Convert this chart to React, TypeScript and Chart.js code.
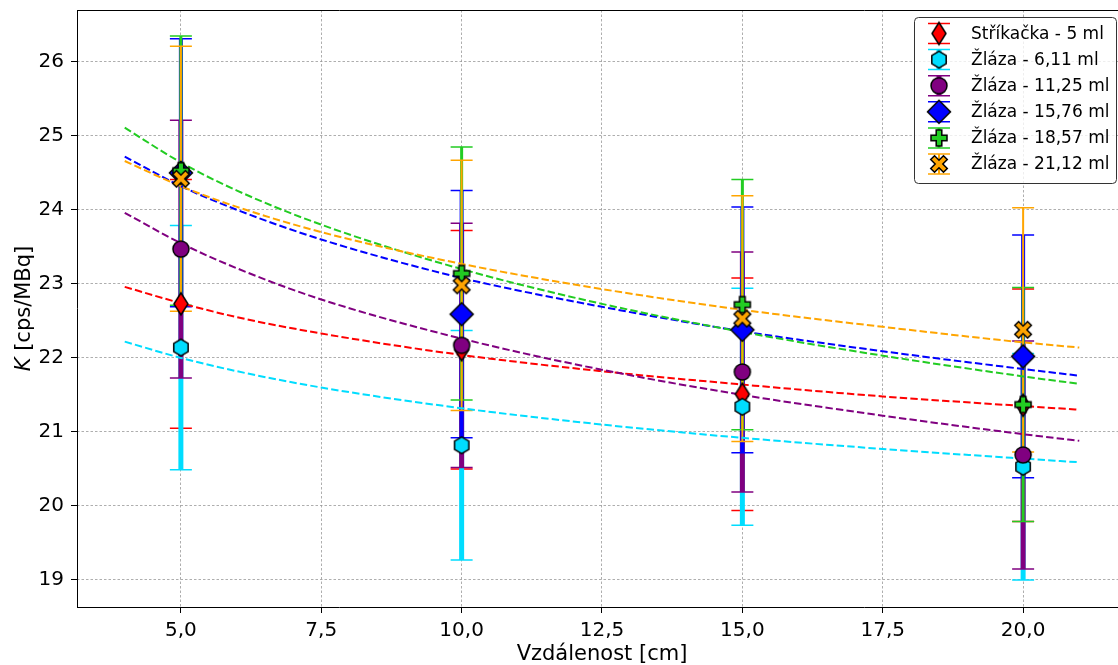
import React, { useEffect, useRef } from "react";
import { Chart, registerables } from "chart.js";

Chart.register(...registerables);

// ---------- data ----------
const X_POS = [5, 10, 15, 20];
const X_TICKS = [5, 7.5, 10, 12.5, 15, 17.5, 20];
const Y_TICKS = [19, 20, 21, 22, 23, 24, 25, 26];

const LABELS = [
  "Stříkačka - 5 ml",
  "Žláza - 6,11 ml",
  "Žláza - 11,25 ml",
  "Žláza - 15,76 ml",
  "Žláza - 18,57 ml",
  "Žláza - 21,12 ml",
];

const K_STRIKACKA = [22.73, 22.11, 21.51, 21.36];
const ERR_STRIKACKA = [1.68, 1.61, 1.57, 1.57];
const K_ZLAZA_611 = [22.14, 20.82, 21.34, 20.53];
const ERR_ZLAZA_611 = [1.65, 1.55, 1.6, 1.53];
const K_ZLAZA_1125 = [23.47, 22.17, 21.81, 20.69];
const ERR_ZLAZA_1125 = [1.74, 1.65, 1.62, 1.54];
const K_ZLAZA_1576 = [24.5, 22.59, 22.38, 22.02];
const ERR_ZLAZA_1576 = [1.81, 1.67, 1.66, 1.64];
const K_ZLAZA_1857 = [24.53, 23.14, 22.72, 21.37];
const ERR_ZLAZA_1857 = [1.82, 1.71, 1.69, 1.58];
const K_ZLAZA_2112 = [24.42, 22.98, 22.53, 22.38];
const ERR_ZLAZA_2112 = [1.79, 1.69, 1.66, 1.65];

// fitted curves
const FIT_X = [4, 5, 6, 7.5, 10, 12.5, 15, 17.5, 20, 21];
const FIT_STRIKACKA = [22.96, 22.74, 22.55, 22.33, 22.04, 21.82, 21.64, 21.48, 21.35, 21.3];
const FIT_ZLAZA_611 = [22.22, 22.0, 21.82, 21.6, 21.32, 21.1, 20.92, 20.77, 20.64, 20.59];
const FIT_ZLAZA_1125 = [23.96, 23.55, 23.21, 22.79, 22.26, 21.84, 21.5, 21.22, 20.97, 20.88];
const FIT_ZLAZA_1576 = [24.72, 24.32, 24.0, 23.6, 23.08, 22.69, 22.36, 22.09, 21.85, 21.76];
const FIT_ZLAZA_1857 = [25.11, 24.64, 24.26, 23.8, 23.2, 22.73, 22.35, 22.03, 21.75, 21.65];
const FIT_ZLAZA_2112 = [24.66, 24.32, 24.04, 23.7, 23.27, 22.93, 22.65, 22.42, 22.21, 22.14];

const COLORS = ["#ff0000", "#00ddff", "#800080", "#0000ff", "#22cc22", "#ffa500"];
const MARKERS = ["thinDiamond", "hexagon", "circle", "diamond", "plus", "x"];
const BAR_WIDTHS = [3, 5, 5, 4, 3, 2];

const VALUES = [K_STRIKACKA, K_ZLAZA_611, K_ZLAZA_1125, K_ZLAZA_1576, K_ZLAZA_1857, K_ZLAZA_2112];
const ERRORS = [ERR_STRIKACKA, ERR_ZLAZA_611, ERR_ZLAZA_1125, ERR_ZLAZA_1576, ERR_ZLAZA_1857, ERR_ZLAZA_2112];
const FITS = [FIT_STRIKACKA, FIT_ZLAZA_611, FIT_ZLAZA_1125, FIT_ZLAZA_1576, FIT_ZLAZA_1857, FIT_ZLAZA_2112];

const FONT = "'DejaVu Sans', sans-serif";

function makeMarker(kind: string, color: string): HTMLCanvasElement {
  const S = 30;
  const c = document.createElement("canvas");
  c.width = S;
  c.height = S;
  const ctx = c.getContext("2d")!;
  ctx.translate(S / 2, S / 2);
  ctx.beginPath();
  const poly = (pts: number[][]) => {
    pts.forEach((p, i) => (i === 0 ? ctx.moveTo(p[0], p[1]) : ctx.lineTo(p[0], p[1])));
    ctx.closePath();
  };
  if (kind === "thinDiamond") {
    poly([[0, -11], [7, 0], [0, 11], [-7, 0]]);
  } else if (kind === "hexagon") {
    const pts: number[][] = [];
    for (let k = 0; k < 6; k++) {
      const a = (-90 + k * 60) * Math.PI / 180;
      pts.push([8.3 * Math.cos(a), 8.3 * Math.sin(a)]);
    }
    poly(pts);
  } else if (kind === "circle") {
    ctx.arc(0, 0, 8, 0, Math.PI * 2);
  } else if (kind === "diamond") {
    poly([[0, -11.5], [11.5, 0], [0, 11.5], [-11.5, 0]]);
  } else if (kind === "plus" || kind === "x") {
    const L = kind === "plus" ? 8 : 9;
    const t = kind === "plus" ? 2.8 : 2.7;
    if (kind === "x") ctx.rotate(Math.PI / 4);
    poly([
      [-t, -L], [t, -L], [t, -t], [L, -t], [L, t], [t, t],
      [t, L], [-t, L], [-t, t], [-L, t], [-L, -t], [-t, -t],
    ]);
  }
  ctx.fillStyle = color;
  ctx.fill();
  ctx.lineWidth = 1.5;
  ctx.lineJoin = "miter";
  ctx.strokeStyle = "#000";
  ctx.stroke();
  return c;
}

export default function App() {
  const ref = useRef<HTMLCanvasElement | null>(null);

  useEffect(() => {
    if (!ref.current) return;
    const markerImgs = COLORS.map((c, i) => makeMarker(MARKERS[i], c));

    const errorBarPlugin = {
      id: "errorBars",
      beforeDatasetsDraw(chart: any) {
        const { ctx, chartArea } = chart;
        const xs = chart.scales.x;
        const ys = chart.scales.y;
        ctx.save();
        ctx.beginPath();
        ctx.rect(chartArea.left, chartArea.top, chartArea.right - chartArea.left, chartArea.bottom - chartArea.top);
        ctx.clip();
        VALUES.forEach((vals, s) => {
          vals.forEach((v, i) => {
            const px = xs.getPixelForValue(X_POS[i]);
            const top = ys.getPixelForValue(v + ERRORS[s][i]);
            const bot = ys.getPixelForValue(v - ERRORS[s][i]);
            ctx.strokeStyle = COLORS[s];
            ctx.lineWidth = BAR_WIDTHS[s];
            ctx.beginPath();
            ctx.moveTo(px, top);
            ctx.lineTo(px, bot);
            ctx.stroke();
            ctx.lineWidth = 1.5;
            ctx.beginPath();
            ctx.moveTo(px - 11, top);
            ctx.lineTo(px + 11, top);
            ctx.moveTo(px - 11, bot);
            ctx.lineTo(px + 11, bot);
            ctx.stroke();
          });
        });
        ctx.restore();
      },
    };

    const decorPlugin = {
      id: "decor",
      afterDraw(chart: any) {
        const { ctx, chartArea } = chart;
        ctx.save();
        // spines
        ctx.strokeStyle = "#000";
        ctx.lineWidth = 1;
        ctx.setLineDash([]);
        ctx.beginPath();
        ctx.moveTo(chartArea.left, chartArea.top + 0.5);
        ctx.lineTo(chartArea.right, chartArea.top + 0.5);
        ctx.moveTo(chartArea.right - 0.5, chartArea.top);
        ctx.lineTo(chartArea.right - 0.5, chartArea.bottom);
        ctx.moveTo(chartArea.left + 0.5, chartArea.top);
        ctx.lineTo(chartArea.left + 0.5, chartArea.bottom);
        ctx.moveTo(chartArea.left, chartArea.bottom + 0.5);
        ctx.lineTo(chartArea.right, chartArea.bottom + 0.5);
        ctx.stroke();

        // y axis title with italic K
        const cy = (chartArea.top + chartArea.bottom) / 2;
        ctx.translate(25, cy);
        ctx.rotate(-Math.PI / 2);
        ctx.fillStyle = "#000";
        ctx.textBaseline = "middle";
        ctx.font = `italic 21px ${FONT}`;
        const wK = ctx.measureText("K").width;
        ctx.font = `21px ${FONT}`;
        const rest = " [cps/MBq]";
        const wR = ctx.measureText(rest).width;
        const start = -(wK + wR) / 2;
        ctx.font = `italic 21px ${FONT}`;
        ctx.textAlign = "left";
        ctx.fillText("K", start, 0);
        ctx.font = `21px ${FONT}`;
        ctx.fillText(rest, start + wK, 0);
        ctx.restore();

        // legend
        ctx.save();
        const bx = 914.5, by = 17.5, bw = 202, bh = 166, r = 4;
        ctx.beginPath();
        ctx.moveTo(bx + r, by);
        ctx.lineTo(bx + bw - r, by);
        ctx.quadraticCurveTo(bx + bw, by, bx + bw, by + r);
        ctx.lineTo(bx + bw, by + bh - r);
        ctx.quadraticCurveTo(bx + bw, by + bh, bx + bw - r, by + bh);
        ctx.lineTo(bx + r, by + bh);
        ctx.quadraticCurveTo(bx, by + bh, bx, by + bh - r);
        ctx.lineTo(bx, by + r);
        ctx.quadraticCurveTo(bx, by, bx + r, by);
        ctx.closePath();
        ctx.fillStyle = "rgba(255,255,255,0.8)";
        ctx.fill();
        ctx.strokeStyle = "#333";
        ctx.lineWidth = 1;
        ctx.stroke();
        ctx.font = `17px ${FONT}`;
        ctx.textBaseline = "middle";
        ctx.textAlign = "left";
        LABELS.forEach((lab, i) => {
          const cyL = 33.5 + i * 26.1;
          const mx = 939;
          ctx.strokeStyle = COLORS[i];
          ctx.lineWidth = BAR_WIDTHS[i];
          ctx.beginPath();
          ctx.moveTo(mx, cyL - 10);
          ctx.lineTo(mx, cyL + 10);
          ctx.stroke();
          ctx.lineWidth = 1.5;
          ctx.beginPath();
          ctx.moveTo(mx - 11, cyL - 10);
          ctx.lineTo(mx + 11, cyL - 10);
          ctx.moveTo(mx - 11, cyL + 10);
          ctx.lineTo(mx + 11, cyL + 10);
          ctx.stroke();
          const img = markerImgs[i];
          ctx.drawImage(img, mx - img.width / 2, cyL - img.height / 2);
          ctx.fillStyle = "#000";
          ctx.fillText(lab, 971, cyL + 1);
        });
        ctx.restore();
      },
    };

    const fitDatasets = FITS.map((f, s) => ({
      label: "fit " + LABELS[s],
      data: FIT_X.map((x, i) => ({ x, y: f[i] })),
      borderColor: COLORS[s],
      backgroundColor: COLORS[s],
      borderWidth: 2,
      borderDash: [7.4, 3.2],
      pointRadius: 0,
      fill: false,
      cubicInterpolationMode: "monotone",
      order: 200 - s,
    }));

    const markerDatasets = VALUES.map((vals, s) => ({
      label: LABELS[s],
      data: X_POS.map((x, i) => ({ x, y: vals[i] })),
      showLine: false,
      pointStyle: markerImgs[s],
      pointRadius: 8,
      borderColor: "#000",
      backgroundColor: COLORS[s],
      order: 100 - s,
    }));

    const gridOpts = {
      color: "#999999",
      lineWidth: 0.8,
      tickColor: "#000",
      tickLength: 6,
      tickWidth: 1,
      tickBorderDash: [],
    };
    const borderOpts = { display: false, color: "#000", width: 1, dash: [2.5, 2] };

    const chart = new Chart(ref.current, {
      type: "line",
      data: { datasets: [...fitDatasets, ...markerDatasets] as any },
      options: {
        responsive: false,
        animation: false,
        devicePixelRatio: 1,
        layout: { autoPadding: false, padding: { top: 10, right: 3, left: 0, bottom: 0 } },
        plugins: { legend: { display: false }, tooltip: { enabled: false } },
        scales: {
          x: {
            type: "linear",
            min: 3.15,
            max: 21.85,
            afterFit: (scale: any) => {
              scale.height = 58;
              scale.paddingLeft = 0;
              scale.paddingRight = 0;
              scale.paddingTop = 0;
              scale.paddingBottom = 0;
            },
            afterBuildTicks: (scale: any) => { scale.ticks = X_TICKS.map((v) => ({ value: v })); },
            ticks: {
              color: "#000",
              font: { family: FONT, size: 20 },
              padding: 6,
              maxRotation: 0,
              callback: (v: any) => Number(v).toFixed(1).replace(".", ","),
            },
            grid: gridOpts,
            border: borderOpts,
            title: {
              display: true,
              text: "Vzdálenost [cm]",
              color: "#000",
              font: { family: FONT, size: 21, lineHeight: 1.0 },
              padding: { top: 0, bottom: 0 },
            },
          },
          y: {
            type: "linear",
            min: 18.635,
            max: 26.7,
            afterFit: (scale: any) => {
              scale.width = 77;
              scale.paddingLeft = 0;
              scale.paddingRight = 0;
              scale.paddingTop = 0;
              scale.paddingBottom = 0;
            },
            afterBuildTicks: (scale: any) => { scale.ticks = Y_TICKS.map((v) => ({ value: v })); },
            ticks: {
              color: "#000",
              font: { family: FONT, size: 20 },
              padding: 7,
              callback: (v: any) => String(v),
            },
            grid: gridOpts,
            border: borderOpts,
          },
        },
      } as any,
      plugins: [errorBarPlugin, decorPlugin],
    });
    return () => chart.destroy();
  }, []);

  return (
    <div
      style={{
        position: "fixed",
        left: 0,
        top: 0,
        width: 1118,
        height: 665,
        overflow: "hidden",
        background: "#fff",
      }}
    >
      <canvas ref={ref} width={1130} height={665} style={{ display: "block" }} />
    </div>
  );
}
